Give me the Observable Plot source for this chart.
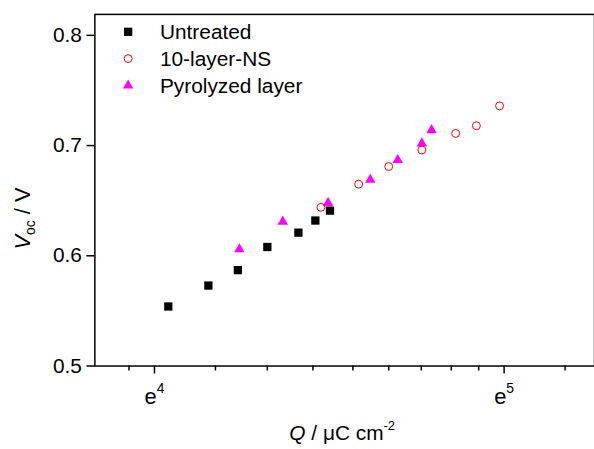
<!DOCTYPE html>
<html><head><meta charset="utf-8">
<script src="https://cdn.jsdelivr.net/npm/d3@7"></script>
<script src="https://cdn.jsdelivr.net/npm/@observablehq/plot@0.6"></script>
<style>
html,body{margin:0;padding:0;overflow:hidden;background:#fff;}
#wrap{position:relative;width:594px;height:449px;overflow:hidden;}
</style></head><body><div id="wrap"></div>
<script>
// Series values (Q in µC cm^-2, Voc in V)
const seriesNames = ["Untreated", "10-layer-NS", "Pyrolyzed layer"];
const untreatedQ = [56.8, 63.7, 69.3, 75.4, 82.4, 86.5, 90.2];
const untreatedV = [0.554, 0.573, 0.587, 0.608, 0.621, 0.632, 0.641];
const nsQ = [87.9, 97.9, 106.7, 117.3, 129.2, 137.1, 146.5];
const nsV = [0.644, 0.665, 0.681, 0.696, 0.711, 0.718, 0.736];
const pyroQ = [69.6, 78.8, 89.7, 101.2, 109.5, 117.3, 120.6];
const pyroV = [0.606, 0.631, 0.648, 0.669, 0.687, 0.702, 0.714];
// Tick values
const xMajorExponents = [4, 5];
const xMinorTicks = [50.76, 65.0, 75.4, 85.9, 96.3, 106.7, 117.1, 127.6, 138.0, 176.7];
const yTicks = [0.5, 0.6, 0.7, 0.8];

const xMajorTicks = xMajorExponents.map(k => Math.exp(k));
const toRows = (Q, V, s) => Q.map((q, i) => ({Q: q, V: V[i], series: s}));
const untreated = toRows(untreatedQ, untreatedV, seriesNames[0]);
const ns = toRows(nsQ, nsV, seriesNames[1]);
const pyro = toRows(pyroQ, pyroV, seriesNames[2]);

const FONT = "'Liberation Sans', Arial, sans-serif";
const styles = [
  {symbol: "square", fill: "#000", stroke: "none", r: 4.7},
  {symbol: "circle", fill: "none", stroke: "#ff0000", r: 4.0},
  {symbol: "triangle", fill: "#ff00ff", stroke: "none", r: 3.9}
];

const chart = Plot.plot({
  width: 598, height: 449,
  marginLeft: 95, marginRight: 0, marginTop: 14, marginBottom: 81,
  style: {fontFamily: FONT, fontSize: "21px", color: "#000", background: "#fff"},
  x: {type: "log", domain: [Math.exp(3.8295), Math.exp(5.2585)]},
  y: {domain: [0.5, 0.819]},
  marks: [
    Plot.frame({stroke: "#000", strokeWidth: 1.5}),
    Plot.axisY({ticks: yTicks, tickSize: 8, tickPadding: 5, tickFormat: d3.format(".1f"), label: null, strokeWidth: 1.5, fontSize: 21}),
    Plot.axisX({ticks: xMajorTicks, tickSize: 8, tickPadding: 15, tickFormat: d => "e" + Math.round(Math.log(d)), label: null, strokeWidth: 1.5, fontSize: 22}),
    Plot.axisX({ticks: xMinorTicks, tickSize: 5, tickPadding: 0, tickFormat: () => "", label: null, strokeWidth: 1.5}),
    Plot.dot(pyro, {x: "Q", y: "V", symbol: styles[2].symbol, fill: styles[2].fill, r: styles[2].r}),
    Plot.dot(ns, {x: "Q", y: "V", symbol: styles[1].symbol, fill: "none", stroke: styles[1].stroke, strokeWidth: 1, r: styles[1].r}),
    Plot.dot(untreated, {x: "Q", y: "V", symbol: styles[0].symbol, fill: styles[0].fill, r: styles[0].r})
  ]
});
document.getElementById("wrap").appendChild(chart);

const svg = d3.select(chart);
// superscript exponents on x tick labels
svg.selectAll('g[aria-label="x-axis tick label"] text').each(function() {
  const t = d3.select(this);
  const s = t.text();
  if (!s) return;
  const exp = s.slice(1);
  t.text(null);
  t.append("tspan").text("e");
  t.append("tspan").attr("font-size", 14).attr("dy", -11).text(exp);
});

const plotLeft = 95, plotRight = 594;
// x axis title
const xt = svg.append("text")
  .attr("x", (plotLeft + plotRight) / 2).attr("y", 443)
  .attr("text-anchor", "middle").attr("font-family", FONT).attr("font-size", 21).attr("fill", "#000");
xt.append("tspan").attr("font-style", "italic").text("Q");
xt.append("tspan").text(" / \u03bcC cm");
xt.append("tspan").attr("font-size", 13).attr("dy", -10).text("-2");

// y axis title
const yt = svg.append("text")
  .attr("transform", "translate(30,220) rotate(-90)")
  .attr("text-anchor", "middle").attr("font-family", FONT).attr("font-size", 22).attr("fill", "#000");
yt.append("tspan").attr("font-style", "italic").text("V");
yt.append("tspan").attr("font-size", 14).attr("dy", 5).text("oc");
yt.append("tspan").attr("dy", -5).text(" / V");

// legend
const lg = svg.append("g");
seriesNames.forEach((name, i) => {
  const cy = 32 + 27 * i;
  const st = styles[i];
  const sym = {square: d3.symbolSquare, circle: d3.symbolCircle, triangle: d3.symbolTriangle}[st.symbol];
  lg.append("path")
    .attr("d", d3.symbol(sym, Math.PI * st.r * st.r)())
    .attr("transform", `translate(129,${cy})`)
    .attr("fill", st.fill).attr("stroke", st.stroke).attr("stroke-width", 1);
  lg.append("text").attr("x", 161).attr("y", cy + 7.5).attr("text-anchor", "start")
    .attr("font-family", FONT).attr("font-size", 21).attr("fill", "#000").text(name);
});
</script>
</body></html>
